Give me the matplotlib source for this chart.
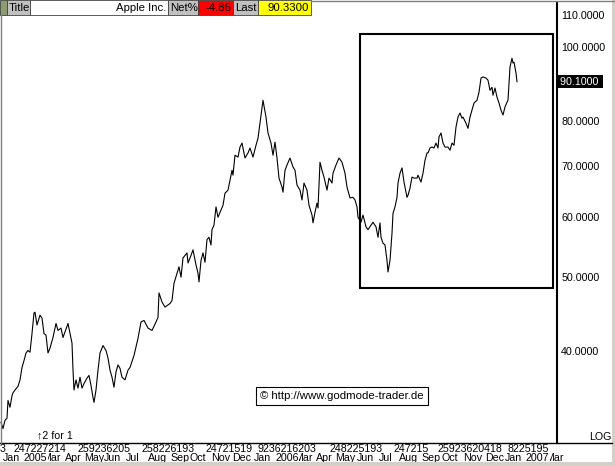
import matplotlib
matplotlib.use("Agg")
import matplotlib.pyplot as plt
from matplotlib.patches import Rectangle
from matplotlib.lines import Line2D
from matplotlib.transforms import blended_transform_factory

plt.rcParams["font.family"] = ["Liberation Sans", "DejaVu Sans"]

# trading day number (since 3 Jan 2005) and close, split adjusted
day = [1, 3, 5, 7, 8, 10, 12, 13, 15, 18, 20, 22, 24, 26, 28, 30, 32, 34, 35, 37,
       40, 42, 44, 46, 48, 50, 53, 56, 58, 61, 63, 65, 68, 70, 72, 73, 74, 76, 78, 80,
       82, 84, 87, 89, 91, 93, 94, 96, 98, 100, 103, 106, 108, 110, 112, 114, 116, 118, 120, 122,
       125, 128, 130, 134, 138, 141, 144, 148, 152, 156, 158, 159, 162, 165, 170, 172, 174, 177, 179, 181,
       183, 187, 188, 191, 193, 196, 198, 199, 201, 203, 205, 207, 209, 211, 212, 214, 216, 218, 221, 223,
       225, 228, 230, 232, 233, 235, 238, 240, 242, 245, 248, 250, 253, 256, 258, 261, 263, 266, 268, 271,
       273, 275, 277, 279, 282, 283, 285, 287, 290, 293, 295, 297, 300, 302, 304, 307, 309, 312, 313, 315,
       317, 318, 320, 322, 324, 327, 329, 332, 333, 336, 339, 342, 345, 347, 350, 353, 355, 357, 358, 361,
       363, 366, 368, 371, 373, 376, 378, 380, 381, 383, 385, 387, 388, 390, 392, 393, 395, 397, 398, 400,
       402, 404, 407, 408, 410, 412, 414, 417, 418, 421, 423, 425, 427, 428, 430, 432, 434, 436, 438, 439,
       441, 443, 445, 448, 450, 452, 454, 456, 458, 460, 462, 463, 466, 468, 470, 472, 474, 477, 479, 481,
       483, 486, 488, 490, 492, 493, 495, 497, 499, 501, 503, 505, 507, 508, 510, 512, 513, 514, 516, 517]
close = [32.3, 31.7, 32.5, 32.7, 34.5, 33.8, 35.0, 35.3, 35.6, 36.0, 36.7, 38.1, 38.9, 39.8, 40.1, 39.9, 42.2, 44.9, 45.0, 43.3,
         44.6, 44.2, 42.2, 42.0, 39.8, 40.4, 41.7, 43.5, 42.6, 42.9, 41.7, 42.4, 43.5, 42.2, 41.0, 37.8, 35.6, 36.7, 35.8, 37.0,
         35.8, 36.3, 36.9, 37.2, 36.1, 34.8, 34.3, 35.6, 37.8, 39.8, 40.7, 40.1, 39.2, 37.8, 37.0, 35.9, 37.6, 38.4, 38.0, 37.0,
         36.7, 37.8, 38.1, 39.5, 41.6, 43.7, 43.9, 42.9, 42.6, 43.7, 44.3, 47.7, 46.4, 45.7, 46.2, 46.6, 49.1, 50.6, 51.6, 50.0,
         53.0, 53.8, 52.2, 53.4, 54.3, 51.9, 50.6, 49.3, 52.6, 53.8, 52.3, 56.0, 56.4, 55.1, 57.7, 58.5, 61.8, 59.9, 61.2, 62.1,
         64.4, 65.0, 67.0, 69.0, 68.0, 72.2, 71.8, 74.0, 74.9, 71.6, 72.7, 73.8, 71.8, 74.4, 76.0, 81.5, 85.2, 81.0, 77.2, 74.9,
         72.2, 75.1, 71.6, 67.4, 65.6, 64.6, 69.0, 70.1, 71.6, 69.7, 69.0, 66.0, 65.0, 63.1, 66.4, 65.0, 62.1, 60.3, 58.9, 60.8,
         62.5, 61.6, 70.7, 69.0, 67.6, 65.0, 67.4, 66.4, 68.4, 70.1, 71.6, 70.7, 68.4, 65.6, 63.5, 63.6, 63.1, 61.8, 59.9, 59.0,
         60.3, 58.2, 57.7, 58.5, 59.0, 58.2, 56.4, 58.9, 56.4, 55.4, 55.1, 52.6, 50.8, 52.6, 57.1, 60.6, 61.8, 63.6, 66.4, 68.4,
         69.5, 66.6, 63.6, 64.0, 65.4, 67.6, 67.4, 67.4, 68.0, 66.6, 68.4, 71.1, 72.7, 72.7, 73.8, 74.0, 73.8, 74.9, 73.8, 76.3,
         77.2, 74.9, 74.0, 74.0, 73.3, 74.9, 74.4, 78.6, 81.0, 82.0, 80.7, 81.0, 79.5, 78.3, 81.0, 82.7, 84.5, 85.2, 87.3, 91.1,
         91.4, 91.1, 90.5, 87.8, 88.6, 86.5, 88.4, 86.0, 84.5, 82.7, 81.5, 83.5, 84.7, 85.2, 94.2, 96.7, 95.3, 95.6, 92.5, 90.1]

price_ticks = [40, 50, 60, 70, 80, 100, 110]
last_price = 90.1

# day-number label groups (first tick of each group) and month labels
day_groups = ["3", "247227214", "259236205", "258226193", "24721519", "9236216203",
              "248225193", "247215", "25923620418", "8225195"]
day_group_pos = [0, 14, 78, 142, 206, 258, 330, 393, 437, 508]
month_labels = ["Jan", "Mar", "2005", "Apr", "May", "Jun", "Jul", "Aug", "Sep", "Oct", "Nov", "Dec",
                "Jan", "Mar", "2006", "Apr", "May", "Jun", "Jul", "Aug", "Sep", "Oct", "Nov", "Dec",
                "Jan", "Mar", "2007"]
month_pos = [3, 42, 24, 65, 84, 104, 126, 148, 170, 190, 211, 232,
             254, 294, 275, 316, 335, 357, 379, 399, 421, 441, 463, 485,
             505, 545, 526]

# highlight box (days, prices) and split marker
box_days = (360, 553)
box_prices = (48.4, 104.0)
split_day = 37

header_cells = [("", "#8c9c70"), ("Title", "#c0c0c0"), ("Apple Inc.", "white"),
                ("Net%", "#c0c0c0"), ("-4.86", "#ff0000"), ("Last", "#c0c0c0"),
                ("90.3300", "#ffff00")]
header_edges = [0, 7, 30, 168, 198, 233, 258, 311]

W, H = 615, 466
FS = 7.7


def fx(x):
    return x / W


def fy(y):
    return 1 - y / H


fig = plt.figure(figsize=(W / 100, H / 100), dpi=100)
fig.patch.set_facecolor("white")

ax = fig.add_axes([0, fy(443), fx(557), fy(3) - fy(443)])
ax.plot(day, close, color="black", linewidth=0.8)
ax.set_yscale("log")
ax.set_xlim(0, 557)
ax.set_ylim(30.35, 114.2)
ax.set_yticks(price_ticks)
ax.set_yticklabels([f"{v:.4f}" for v in price_ticks], fontsize=FS)
ax.minorticks_off()
ax.yaxis.tick_right()
ax.tick_params(axis="y", length=0, pad=3)
ax.set_xticks([])
for s in ["top", "left", "bottom"]:
    ax.spines[s].set_visible(False)
ax.spines["right"].set_linewidth(1.5)

ax.add_patch(Rectangle((box_days[0], box_prices[0]), box_days[1] - box_days[0],
                       box_prices[1] - box_prices[0], fill=False, edgecolor="black",
                       linewidth=1.5))

ax.text(1.0, last_price, " 90.1000 ", transform=blended_transform_factory(ax.transAxes, ax.transData),
        color="white", fontsize=FS, va="center", ha="left",
        bbox=dict(facecolor="black", edgecolor="none", pad=1.0))

ax.text(split_day, 0.018, "\u21912 for 1", transform=blended_transform_factory(ax.transData, ax.transAxes),
        fontsize=FS, ha="left", va="center")

fig.text(fx(342), fy(396), "\u00a9 http://www.godmode-trader.de", fontsize=FS + 0.5,
         ha="center", va="center",
         bbox=dict(facecolor="white", edgecolor="black", linewidth=0.8, boxstyle="square,pad=0.35"))

# bottom axis line
fig.add_artist(Line2D([0, fx(612)], [fy(443), fy(443)], color="black", linewidth=1.0))
fig.text(fx(611), fy(437), "LOG", fontsize=FS, ha="right", va="center")

# date labels
tx = blended_transform_factory(ax.transData, fig.transFigure)
for lab, pos in zip(day_groups, day_group_pos):
    ax.text(pos, fy(449), lab, transform=tx, fontsize=FS, ha="left", va="center", clip_on=False)
for lab, pos in zip(month_labels, month_pos):
    ax.text(pos, fy(458), lab, transform=tx, fontsize=FS, ha="left", va="center", clip_on=False,
            bbox=dict(facecolor="white", edgecolor="none", pad=0.3))

# header bar
for (lab, col), x0, x1 in zip(header_cells, header_edges[:-1], header_edges[1:]):
    fig.add_artist(Rectangle((fx(x0), fy(15)), fx(x1 - x0), 15 / H, facecolor=col,
                             edgecolor="#404040", linewidth=0.6))
    if not lab:
        continue
    if col == "#c0c0c0":
        fig.text(fx(x0 + 2), fy(8), lab, fontsize=FS + 0.5, ha="left", va="center")
    else:
        fig.text(fx(x1 - 2), fy(8), lab, fontsize=FS + 0.5, ha="right", va="center")
fig.add_artist(Line2D([fx(311), 1], [fy(0.5), fy(0.5)], color="#808080", linewidth=1.0))

# window frame
fig.add_artist(Rectangle((fx(612), 0), fx(3), 1, facecolor="#d4d0c8", edgecolor="none"))
fig.add_artist(Rectangle((0, 0), 1, 4 / H, facecolor="#d4d0c8", edgecolor="none"))
fig.add_artist(Line2D([fx(0.5), fx(0.5)], [fy(443), fy(15)], color="#808080", linewidth=1.0))

fig.savefig("out.png", dpi=100)
